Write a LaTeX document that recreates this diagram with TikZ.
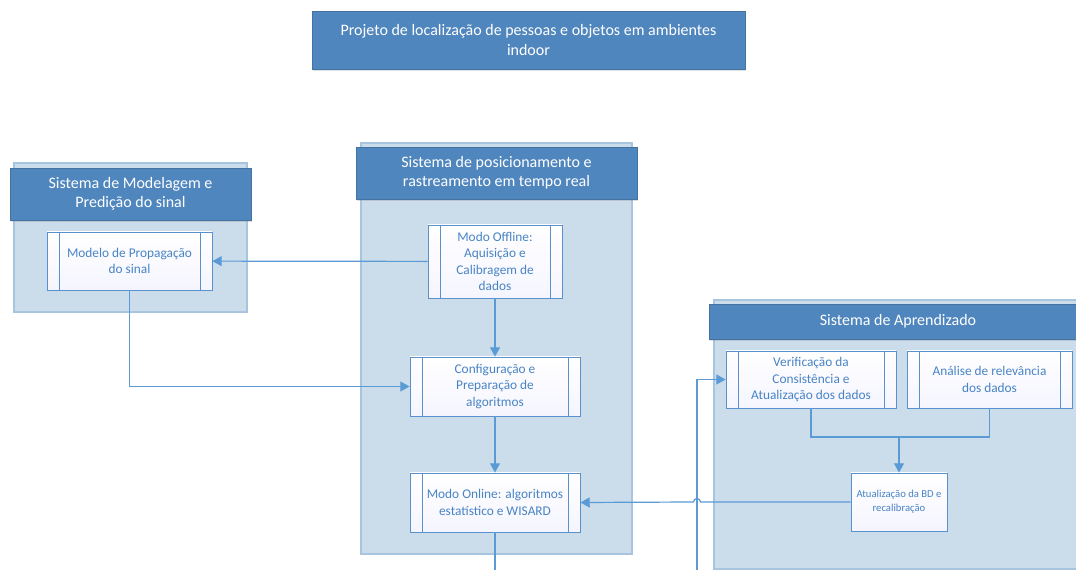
\documentclass[tikz,border=0pt]{standalone}
\usepackage{fontspec}
\setmainfont{Carlito}
\usepackage{tikz}
\usetikzlibrary{arrows.meta,shadows}

\definecolor{hdrblue}{RGB}{80,134,190}
\definecolor{contfill}{RGB}{203,220,235}
\definecolor{contline}{RGB}{168,197,224}
\definecolor{boxline}{RGB}{88,145,205}
\definecolor{boxtext}{RGB}{72,132,196}
\definecolor{flow}{RGB}{91,155,213}

\begin{document}
\begin{tikzpicture}[x=0.75pt,y=-0.75pt,
	header/.style={fill=hdrblue,draw=hdrblue!85!black,line width=0.4pt,text=white,align=center,
		font=\fontsize{12}{14.6}\selectfont,drop shadow={opacity=0.25,shadow xshift=0.8pt,shadow yshift=-1.2pt}},
	container/.style={fill=contfill,draw=contline,line width=0.8pt},
	procbox/.style={draw=boxline,line width=0.6pt,top color=white,bottom color=blue!4!white,
		text=boxtext,align=center,inner sep=1pt,font=\fontsize{10}{12.2}\selectfont,
		path picture={\draw[boxline,line width=0.6pt]
			([xshift=9pt]path picture bounding box.north west) -- ([xshift=9pt]path picture bounding box.south west)
			([xshift=-9pt]path picture bounding box.north east) -- ([xshift=-9pt]path picture bounding box.south east);}},
	plainbox/.style={draw=boxline,line width=0.6pt,top color=white,bottom color=blue!4!white,
		text=boxtext,align=center,inner sep=1pt,font=\fontsize{8}{10.5}\selectfont},
	flowline/.style={draw=flow,line width=0.9pt},
	arr/.style={flowline,-{Triangle[length=7pt,width=7.5pt]}}
]
\useasboundingbox (0,0) rectangle (1076,570);

\fill[white] (0,0) rectangle (1076,570);

\draw[container] (14,163) rectangle (247,312);
\draw[container] (361,143) rectangle (632,554);
\draw[container] (714,300) rectangle (1090,569);

\node[header,minimum width=324.75pt,minimum height=43.5pt] (proj) at (528.5,40)
	{Projeto de localização de pessoas e objetos em ambientes\\indoor};
\node[header,minimum width=180.75pt,minimum height=39pt] (hdrmod) at (130.5,194)
	{Sistema de Modelagem e\\Predição do sinal};
\node[header,minimum width=210.75pt,minimum height=39pt] (hdrpos) at (496.5,173)
	{Sistema de posicionamento e\\rastreamento em tempo real};
\node[header,minimum width=283.5pt,minimum height=26.25pt] (hdrapr) at (898,321.5)
	{Sistema de Aprendizado};

\node[procbox,minimum width=123.75pt,minimum height=43.5pt] (modelo) at (129.5,261)
	{Modelo de Propagação\\do sinal};
\node[procbox,minimum width=100.5pt,minimum height=54.75pt] (offline) at (495,261.5)
	{Modo Offline:\\Aquisição e\\Calibragem de\\dados};
\node[procbox,minimum width=127.5pt,minimum height=44.25pt] (config) at (495,386.5)
	{Configuração e\\Preparação de\\algoritmos};
\node[procbox,minimum width=127.5pt,minimum height=44.25pt] (online) at (495,502.5)
	{Modo Online: algoritmos\\estatístico e WISARD};
\node[procbox,minimum width=127.5pt,minimum height=42.75pt] (verif) at (811,379.5)
	{Verificação da\\Consistência e\\Atualização dos dados};
\node[procbox,minimum width=123.75pt,minimum height=42.75pt] (anal) at (989.5,379.5)
	{Análise de relevância\\dos dados};
\node[plainbox,minimum width=72pt,minimum height=43.5pt] (atu) at (899,502)
	{Atualização da BD e\\recalibração};

\coordinate (merge) at (899,437);
\coordinate (onlineout) at (495,572);
\coordinate (feedback) at (697,572);
\coordinate (hop) at (700.5,502);

\path
(offline) edge[arr] (modelo)
(offline) edge[arr] (config)
(config) edge[arr] (online)
(merge) edge[arr] (atu)
;
\draw[flowline] (online) -- (onlineout);
\draw[arr] (modelo.south) |- (config.west);
\draw[flowline] (verif.south) |- (merge) -| (anal.south);
\draw[arr] (feedback) |- (verif.west);
\draw[arr] (atu.west) -- (hop) arc[start angle=0,end angle=-180,radius=3.5] -- (online.east);
\end{tikzpicture}
\end{document}
